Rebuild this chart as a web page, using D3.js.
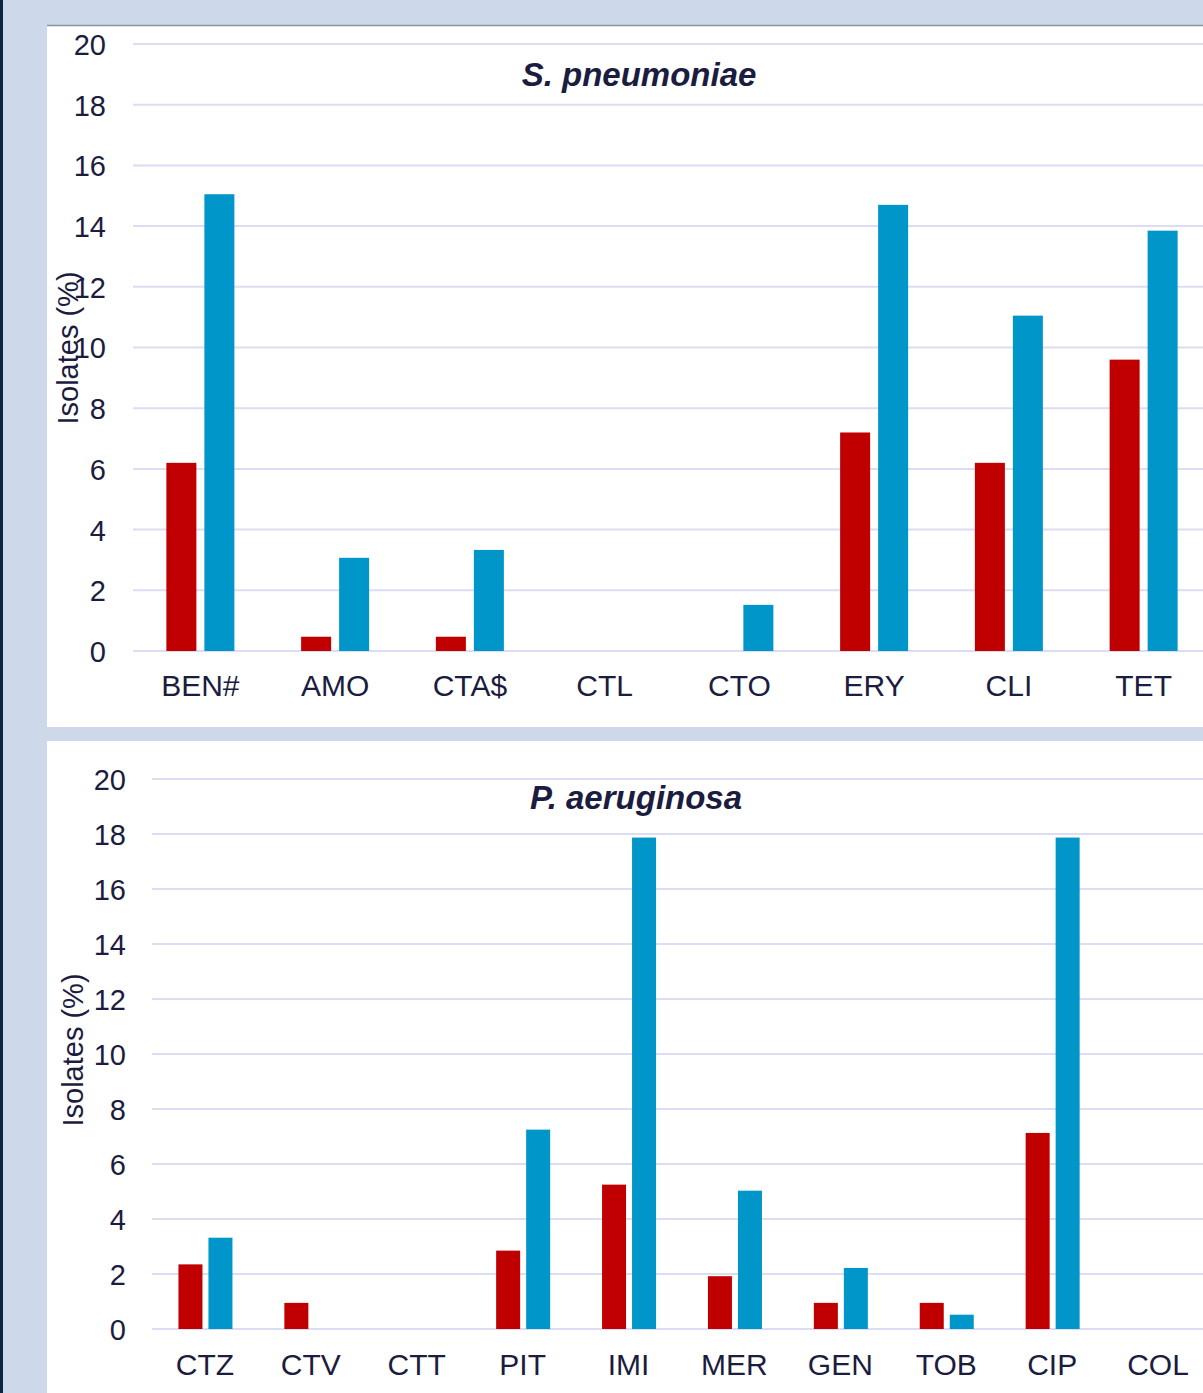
<!DOCTYPE html>
<html><head><meta charset="utf-8">
<script src="https://cdn.jsdelivr.net/npm/d3@7"></script>
<style>
html,body{margin:0;padding:0;background:#cdd9ea;}
svg{display:block;font-family:"Liberation Sans",Arial,sans-serif;}
</style></head><body>
<svg id="c" width="1203" height="1393"></svg>
<script>
const topTitle = "S. pneumoniae";
const topCategories = ["BEN#","AMO","CTA$","CTL","CTO","ERY","CLI","TET"];
const topRed  = [6.2, 0.47, 0.47, 0, 0, 7.2, 6.2, 9.6];
const topBlue = [15.05, 3.07, 3.33, 0, 1.52, 14.7, 11.05, 13.85];

const botTitle = "P. aeruginosa";
const botCategories = ["CTZ","CTV","CTT","PIT","IMI","MER","GEN","TOB","CIP","COL"];
const botRed  = [2.35, 0.95, 0, 2.85, 5.25, 1.92, 0.95, 0.95, 7.13, 0];
const botBlue = [3.32, 0, 0, 7.25, 17.87, 5.03, 2.22, 0.52, 17.87, 0];

const yTicks = [0,2,4,6,8,10,12,14,16,18,20];
const yLabel = "Isolates (%)";

const svg = d3.select("#c");
svg.append("rect").attr("x",0).attr("y",0).attr("width",3).attr("height",1393).attr("fill","#0b2545");

function panel(cfg){
  const g = svg.append("g");
  g.append("rect").attr("x",47).attr("y",cfg.py0).attr("width",1203-47).attr("height",cfg.py1-cfg.py0).attr("fill","#ffffff");
  if(cfg.border) g.append("line").attr("x1",47).attr("x2",1203).attr("y1",cfg.py0-0.5).attr("y2",cfg.py0-0.5).attr("stroke","#8a929c").attr("stroke-width",1.5);
  const y = d3.scaleLinear().domain([0,20]).range([cfg.y0,cfg.y20]);
  const x = d3.scaleBand().domain(cfg.cats).range([cfg.x0,cfg.x1]);
  g.append("g").selectAll("line").data(yTicks).join("line")
    .attr("x1",cfg.x0).attr("x2",1203).attr("y1",d=>y(d)).attr("y2",d=>y(d))
    .attr("stroke","#dcdcf2").attr("stroke-width",2);
  const ya = g.append("g").attr("transform",`translate(${cfg.tickX},0)`)
    .call(d3.axisLeft(y).tickValues(yTicks).tickSize(0).tickPadding(0));
  ya.select(".domain").remove();
  ya.selectAll("text").attr("font-size",29).attr("fill","#1c1c40").attr("font-family","'Liberation Sans',Arial,sans-serif").attr("dy","0.36em");
  const xa = g.append("g").attr("transform",`translate(0,${cfg.y0})`)
    .call(d3.axisBottom(x).tickSize(0).tickPadding(cfg.xpad));
  xa.select(".domain").remove();
  xa.selectAll("text").attr("font-size",30).attr("fill","#1c1c40").attr("font-family","'Liberation Sans',Arial,sans-serif");
  const bw = cfg.bw, gap = cfg.gap;
  const bars = g.append("g");
  cfg.cats.forEach((c,i)=>{
    const cx = x(c)+x.bandwidth()/2 + cfg.off;
    if(cfg.red[i]>0) bars.append("rect").attr("x",cx-gap/2-bw).attr("width",bw)
      .attr("y",y(cfg.red[i])).attr("height",y(0)-y(cfg.red[i])).attr("fill","#c00000");
    if(cfg.blue[i]>0) bars.append("rect").attr("x",cx+gap/2).attr("width",bw)
      .attr("y",y(cfg.blue[i])).attr("height",y(0)-y(cfg.blue[i])).attr("fill","#0096c9");
  });
  g.append("text").attr("x",cfg.titleX).attr("y",cfg.titleY).attr("text-anchor","middle")
    .attr("font-size",33).attr("font-weight","bold").attr("font-style","italic").attr("fill","#1c1c40").text(cfg.title);
  g.append("text").attr("transform",`translate(${cfg.labX},${cfg.labY}) rotate(-90)`).attr("text-anchor","middle")
    .attr("font-size",29).attr("fill","#1c1c40").text(yLabel);
}

panel({py0:26, py1:727, border:true, y0:651, y20:44, x0:133, x1:1211, tickX:106,
  cats:topCategories, red:topRed, blue:topBlue, bw:30, gap:8, off:0, xpad:24,
  title:topTitle, titleX:639, titleY:86, labX:78, labY:348});
panel({py0:741, py1:1393, border:false, y0:1329, y20:779, x0:152, x1:1211, tickX:126,
  cats:botCategories, red:botRed, blue:botBlue, bw:24, gap:6, off:0.5, xpad:25,
  title:botTitle, titleX:636, titleY:809, labX:83, labY:1050});
</script>
</body></html>
